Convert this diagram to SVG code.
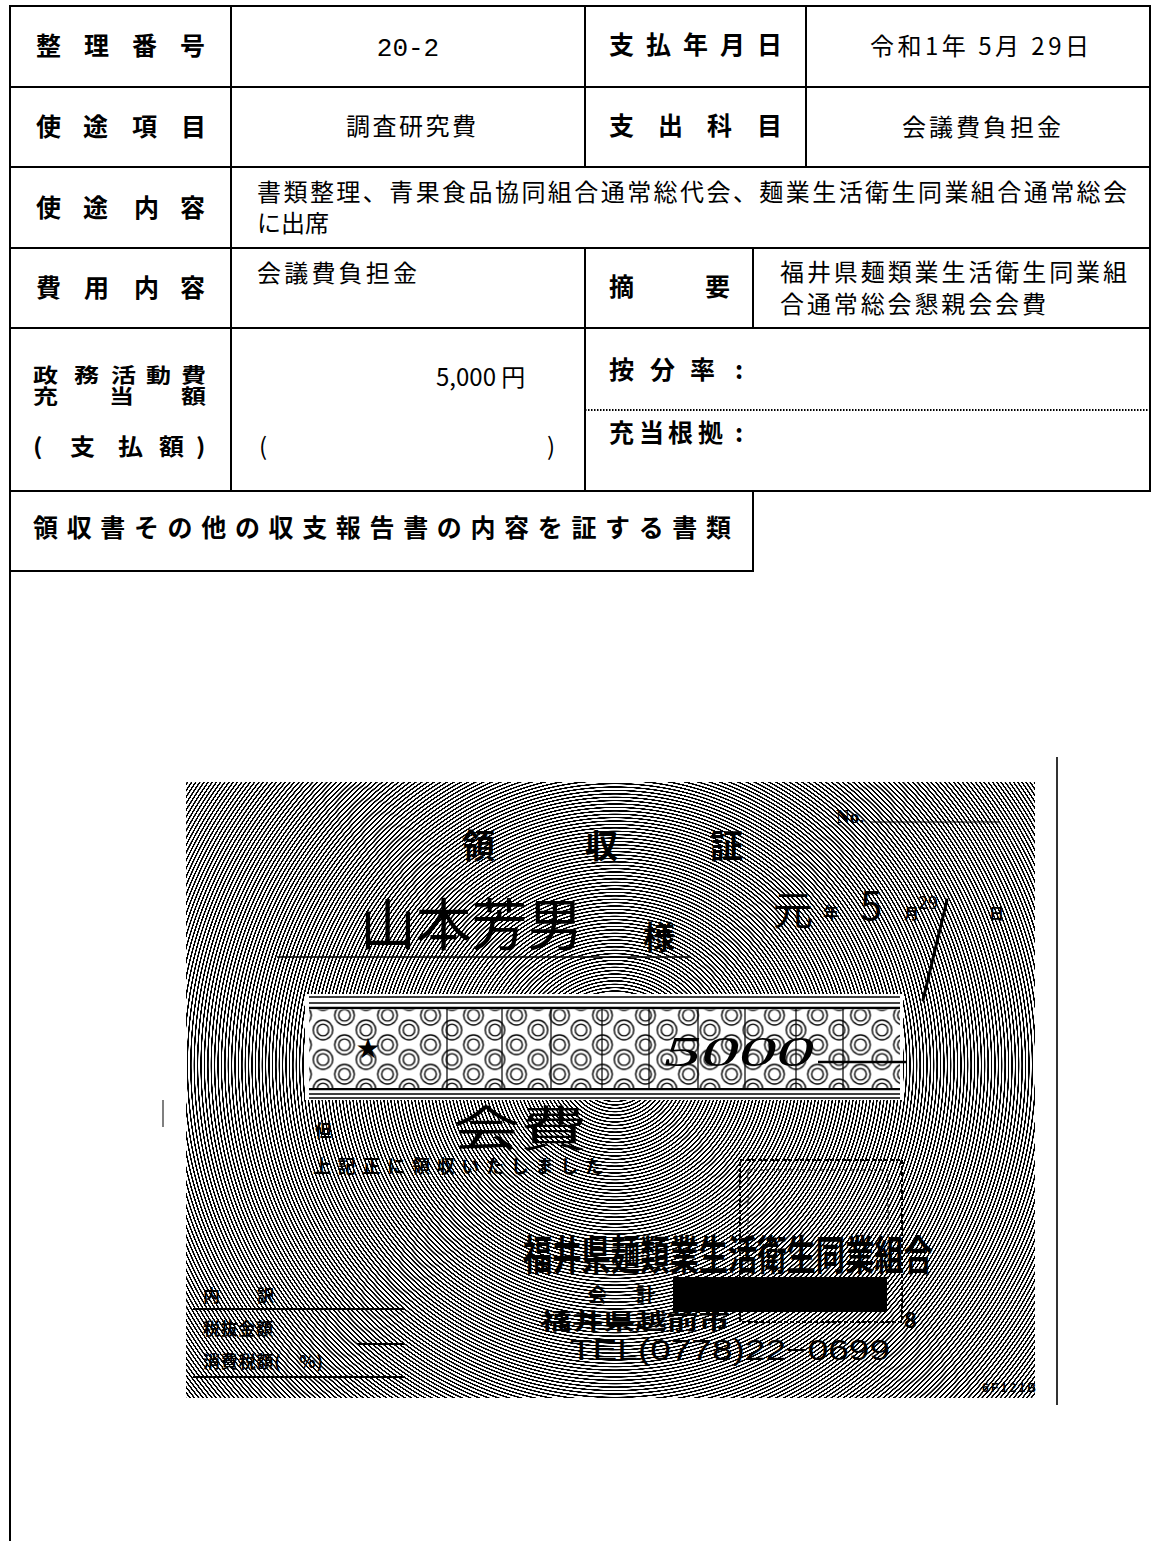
<svg xmlns="http://www.w3.org/2000/svg" width="1158" height="1541" viewBox="0 0 1158 1541">
<style>
.ln{stroke:#000;stroke-width:2;fill:none}
.lb{font-family:"Noto Sans CJK JP","Noto Sans CJK SC",sans-serif;font-weight:700;font-size:25px;fill:#000}
.tx{font-family:"Noto Sans CJK JP","Noto Sans CJK SC",sans-serif;font-weight:400;font-size:24px;fill:#000}
.rc{font-family:"Noto Sans CJK JP","Noto Sans CJK SC",sans-serif;font-weight:700;fill:#000}
.rb{font-family:"Noto Sans CJK JP","Noto Sans CJK SC",sans-serif;font-weight:700;fill:#000}
.hw{font-family:"Noto Sans CJK JP","Noto Sans CJK SC",sans-serif;font-weight:400;fill:#000}
.thin{stroke:#000;stroke-width:1.2;fill:none}
</style>
<defs>
<radialGradient id="rings" gradientUnits="userSpaceOnUse" cx="615" cy="1065" r="3.4" spreadMethod="repeat">
<stop offset="0" stop-color="#fff"/>
<stop offset="0.5" stop-color="#fff"/>
<stop offset="0.57" stop-color="#000"/>
<stop offset="0.93" stop-color="#000"/>
<stop offset="1" stop-color="#fff"/>
</radialGradient>
<pattern id="dots" patternUnits="userSpaceOnUse" x="301.5" y="1000.5" width="43" height="29.5">
<rect width="43" height="29.5" fill="#fff"/>
<g fill="none" stroke="#000" stroke-width="1.4">
<circle cx="21.5" cy="0" r="9.8"/><circle cx="21.5" cy="0" r="5.8"/>
<circle cx="21.5" cy="29.5" r="9.8"/><circle cx="21.5" cy="29.5" r="5.8"/>
<circle cx="0" cy="14.75" r="9.8"/><circle cx="0" cy="14.75" r="5.8"/>
<circle cx="43" cy="14.75" r="9.8"/><circle cx="43" cy="14.75" r="5.8"/>
</g>
</pattern>
</defs>
<rect width="1158" height="1541" fill="#fff"/>

<g id="table-lines">
<path class="ln" d="M9 6H1151M9 87H1151M9 167H1151M9 248H1151M9 328H1151M9 491H1151M9 571H754"/>
<path class="ln" d="M10 6V1541M1150 6V491M231 6V491M585 6V167M585 248V491M806 6V167M753 248V328M753 491V571"/>
<path d="M585 410H1150" stroke="#000" stroke-width="2" stroke-dasharray="1.5 1.5" fill="none"/>
</g>

<g id="row1">
<text class="lb" x="36 84 132 180" y="55">整理番号</text>
<text x="408" y="56" text-anchor="middle" font-family="Liberation Mono, monospace" font-size="26">20-2</text>
<text class="lb" x="609 646 683 720 757" y="54" font-size="24">支払年月日</text>
<text class="tx" x="870" y="55" font-size="22" textLength="219">令和1年 5月 29日</text>
</g>
<g id="row2">
<text class="lb" x="36 83 132 181" y="136">使途項目</text>
<text class="tx" x="346" y="135" font-size="25" textLength="130">調査研究費</text>
<text class="lb" x="609 658 707 757" y="135" font-size="24">支出科目</text>
<text class="tx" x="902" y="136" font-size="25" textLength="159">会議費負担金</text>
</g>
<g id="row3">
<text class="lb" x="36 83 134 180" y="217">使途内容</text>
<text class="tx" x="257" y="201" font-size="24" textLength="870">書類整理、青果食品協同組合通常総代会、麺業生活衛生同業組合通常総会</text>
<text class="tx" x="257" y="232" font-size="24">に出席</text>
</g>
<g id="row4">
<text class="lb" x="36 84 134 180" y="297">費用内容</text>
<text class="tx" x="257" y="282" font-size="24" textLength="160">会議費負担金</text>
<text class="lb" x="609 705" y="296" font-size="24">摘要</text>
<text class="tx" x="780" y="281" font-size="25" textLength="347">福井県麺類業生活衛生同業組</text>
<text class="tx" x="780" y="313" font-size="25" textLength="266">合通常総会懇親会会費</text>
</g>
<g id="row5">
<text class="lb" transform="matrix(1 0 0 0.8 0 383)" x="33 74 111 146 181" y="0" font-size="24">政務活動費</text>
<text class="lb" transform="matrix(1 0 0 0.8 0 404)" x="33 109 181" y="0" font-size="24">充当額</text>
<text class="lb" transform="matrix(1 0 0 0.9 0 455)" x="33 70 118 159 196" y="0" font-size="24">(支払額)</text>
<text class="tx" x="436" y="386" font-size="23">5,000 円</text>
<text class="tx" x="259" y="455" font-size="24">(</text>
<text class="tx" x="547" y="455" font-size="24">)</text>
<text class="lb" x="609 650 690 735" y="379" font-size="24">按分率:</text>
<text class="lb" x="609 639 668 698 735" y="442" font-size="24">充当根拠:</text>
</g>
<g id="row6">
<text class="lb" x="33" y="537" font-size="25" textLength="698">領収書その他の収支報告書の内容を証する書類</text>
</g>

<g id="receipt">
<rect x="186" y="782" width="849" height="616" fill="url(#rings)"/>
<g id="receipt-title">
<text class="rb" x="462" y="858" font-size="33">領</text>
<text class="rb" x="585" y="858" font-size="33">収</text>
<text class="rb" x="710" y="858" font-size="33">証</text>
<text x="836" y="823" font-family="Liberation Serif, serif" font-weight="700" font-size="19">No.</text>
<path class="thin" d="M870 822H1000"/>
</g>
<g id="receipt-name">
<text class="hw" x="360" y="945" font-size="56" textLength="223" lengthAdjust="spacingAndGlyphs">山本芳男</text>
<text class="rb" x="643" y="949" font-size="32">様</text>
<path d="M277 957H690" stroke="#000" stroke-width="1.5"/>
</g>
<g id="receipt-date">
<text class="hw" x="773" y="925" font-size="40">元</text>
<text class="rc" x="823" y="919" font-size="16">年</text>
<text class="hw" x="860" y="920" font-size="40">5</text>
<text class="rc" x="904" y="919" font-size="15">月</text>
<text class="hw" x="918" y="909" font-size="18">29</text>
<text class="rc" x="989" y="919" font-size="15">日</text>
<path d="M947 900L923 1000" stroke="#000" stroke-width="3" stroke-linecap="round"/>
</g>
<g id="receipt-amount">
<rect x="305" y="994" width="598" height="106" fill="#fff"/>
<path d="M309 997H900M309 1003H900" stroke="#000" stroke-width="1.5"/>
<path d="M309 1008H900M309 1089H900" stroke="#000" stroke-width="2.5"/>
<path d="M309 1094H900M309 1098H900" stroke="#000" stroke-width="1.5"/>
<rect x="309" y="1009.5" width="591" height="78.5" fill="url(#dots)"/>
<path d="M447 1009V1088M502 1009V1088M551 1009V1088M602 1009V1088M649 1009V1088M698 1009V1088M745 1009V1088M796 1009V1088M843 1009V1088" stroke="#000" stroke-width="1.2"/>
<text x="368" y="1058" text-anchor="middle" font-family="DejaVu Sans, sans-serif" font-size="28">★</text>
<text x="664" y="1066" font-family="Liberation Serif, serif" font-style="italic" font-size="42" textLength="150" lengthAdjust="spacingAndGlyphs">5000</text>
<path d="M818 1062H906" stroke="#000" stroke-width="2.5"/>
</g>
<g id="receipt-note">
<text class="rc" x="315" y="1137" font-size="17">但</text>
<text class="hw" x="453" y="1146" font-size="48" textLength="134" lengthAdjust="spacingAndGlyphs">会費</text>
<text class="rc" x="313" y="1173" font-size="18" textLength="290">上記正に領収いたしました</text>
</g>
<g id="receipt-stamp">
<rect x="740" y="1160" width="162" height="162" fill="none" stroke="#000" stroke-width="2" stroke-dasharray="4 2"/>
<rect x="748" y="1170" width="140" height="120" fill="none" stroke="#000" stroke-width="1" stroke-dasharray="3 3"/>
</g>
<g id="receipt-issuer">
<text class="rc" x="523" y="1270" font-size="41" textLength="410" lengthAdjust="spacingAndGlyphs">福井県麺類業生活衛生同業組合</text>
<text class="rc" x="588" y="1302" font-size="19">会</text>
<text class="rc" x="636" y="1302" font-size="19">計</text>
<text class="rc" x="540" y="1329" font-size="22" textLength="190" lengthAdjust="spacingAndGlyphs">福井県越前市</text>
<text class="rc" x="904" y="1328" font-size="22">8</text>
<text x="570" y="1360" font-family="Liberation Sans, sans-serif" font-size="30" textLength="320" lengthAdjust="spacingAndGlyphs">TEL(0778)22−0699</text>
<rect x="673" y="1277" width="214" height="35" fill="#000"/>
</g>
<g id="receipt-breakdown">
<text class="rc" x="203 257" y="1302" font-size="17">内訳</text>
<path d="M193 1309H405" stroke="#000" stroke-width="2"/>
<text class="rc" x="203" y="1335" font-size="17" textLength="70">税抜金額</text>
<path d="M357 1344H405" stroke="#000" stroke-width="2"/>
<text class="rc" x="203" y="1368" font-size="17" textLength="120">消費税額(　%)</text>
<path d="M193 1377H405" stroke="#000" stroke-width="2"/>
<text x="982" y="1392" font-family="Liberation Sans, sans-serif" font-weight="700" font-size="12" textLength="54">6F121B</text>
</g>
</g>
<g id="scan-marks">
<path d="M1057 757V1405" stroke="#333" stroke-width="2"/>
<path d="M163 1100V1127" stroke="#555" stroke-width="1.5"/>
</g>
</svg>
